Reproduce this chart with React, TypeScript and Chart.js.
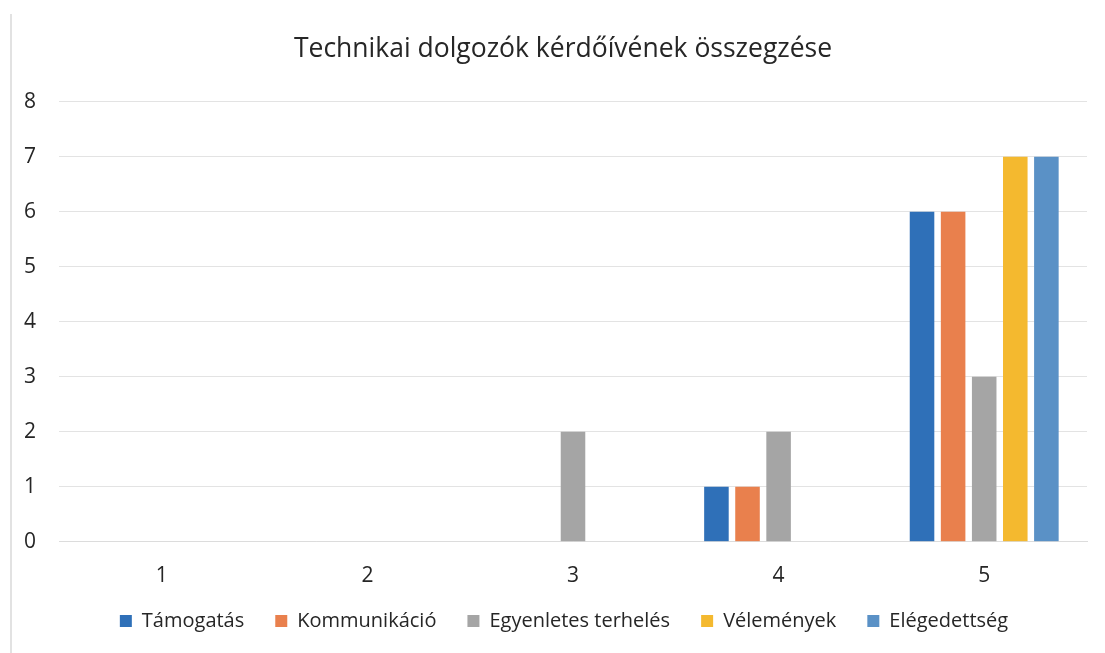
import React, { useEffect, useRef } from "react";
import { Chart, registerables } from "chart.js";

Chart.register(...registerables);

const categories = ["1", "2", "3", "4", "5"];
const tamogatas = [0, 0, 0, 1, 6];
const kommunikacio = [0, 0, 0, 1, 6];
const egyenletes = [0, 0, 2, 2, 3];
const velemenyek = [0, 0, 0, 0, 7];
const elegedettseg = [0, 0, 0, 0, 7];

const seriesNames = ["Támogatás", "Kommunikáció", "Egyenletes terhelés", "Vélemények", "Elégedettség"];
const seriesColors = ["#2F70B8", "#E9804D", "#A5A5A5", "#F4B92F", "#5A91C6"];
const titleText = "Technikai dolgozók kérdőívének összegzése";
const FONT = "'Open Sans', 'Noto Sans', sans-serif";

const shiftPlugin = {
  id: "shiftBoxes",
  afterLayout(chart: any) {
    const t = chart.titleBlock;
    if (t) {
      t.left += 38;
    }
    const lg = chart.legend;
    if (lg) {
      lg.top -= 23;
      lg.bottom -= 23;
      lg.left += 20;
      lg.right += 20;
    }
  },
};

export default function App() {
  const ref = useRef<HTMLCanvasElement | null>(null);
  useEffect(() => {
    if (!ref.current) return;
    const seriesData = [tamogatas, kommunikacio, egyenletes, velemenyek, elegedettseg];
    const chart = new Chart(ref.current, {
      type: "bar",
      data: {
        labels: categories,
        datasets: seriesNames.map((n, i) => ({
          label: n,
          data: seriesData[i],
          backgroundColor: seriesColors[i],
          borderWidth: 0,
          categoryPercentage: 0.756,
          barPercentage: 0.79,
        })),
      },
      plugins: [shiftPlugin],
      options: {
        animation: false,
        responsive: false,
        maintainAspectRatio: false,
        layout: { padding: { left: 1, right: 18, top: 34, bottom: -11 } },
        plugins: {
          title: {
            display: true,
            text: titleText,
            color: "#262626",
            font: { family: FONT, size: 26.5, weight: "normal" },
            padding: { top: 0, bottom: 36 },
          },
          legend: {
            position: "bottom",
            labels: {
              boxWidth: 12,
              boxHeight: 12,
              padding: 31,
              color: "#262626",
              font: { family: FONT, size: 20 },
            },
          },
          tooltip: { enabled: false },
        },
        scales: {
          x: {
            grid: { display: false },
            border: { display: true, color: "#dcdcdc" },
            ticks: { color: "#262626", font: { family: FONT, size: 21 }, padding: 14 },
          },
          y: {
            min: 0,
            max: 8,
            grid: { color: "#e3e3e3", drawTicks: false },
            border: { display: false },
            ticks: { stepSize: 1, color: "#262626", font: { family: FONT, size: 21 }, padding: 23 },
          },
        },
      },
    });
    return () => chart.destroy();
  }, []);
  return (
    <div style={{ position: "fixed", left: 0, top: 0, width: 1105, height: 653, background: "#fff" }}>
      <div style={{ position: "absolute", left: 10, top: 14, width: 0, height: 639, borderLeft: "2px solid #e2e2e2" }} />
      <canvas ref={ref} width={1105} height={653} style={{ position: "absolute", left: 0, top: 0 }} />
    </div>
  );
}
